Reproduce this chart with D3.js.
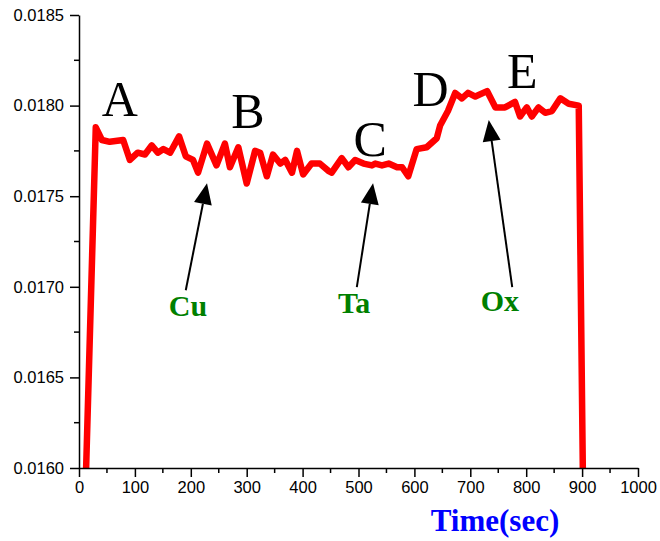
<!DOCTYPE html>
<html>
<head>
<meta charset="utf-8">
<script src="https://cdn.jsdelivr.net/npm/d3@7"></script>
<style>
  body { margin: 0; background: #fff; }
  svg { display: block; }
</style>
</head>
<body>
<script>
// Data (time in seconds, value)
const times = [10, 30, 41, 55, 79, 91, 105, 118, 130, 141, 151, 163, 179, 191, 204, 213, 229,
  246, 261, 270, 285, 300, 315, 324, 336, 347, 360, 369, 381, 390, 401, 416, 431, 446,
  452, 470, 482, 494, 509, 524, 530, 542, 554, 569, 578, 589, 604, 622, 640, 646, 660,
  673, 685, 696, 709, 730, 745, 762, 780, 789, 801, 810, 822, 834, 846, 861, 876, 894, 902];
const values = [0.01570, 0.01788, 0.01781, 0.01780, 0.01781, 0.01770, 0.01774, 0.01773, 0.01778, 0.01774, 0.01776, 0.01774, 0.01783, 0.01772, 0.01770, 0.01763, 0.01779,
  0.01767, 0.01779, 0.01766, 0.01777, 0.01757, 0.01775, 0.01774, 0.01761, 0.01773, 0.01768, 0.01770, 0.01763, 0.01775, 0.01762, 0.01768, 0.01768, 0.01764,
  0.01763, 0.01771, 0.01766, 0.01770, 0.01768, 0.01767, 0.01768, 0.01767, 0.01768, 0.01766, 0.01766, 0.01761, 0.01776, 0.01777, 0.01782, 0.01789, 0.01797,
  0.01807, 0.01804, 0.01807, 0.01805, 0.01808, 0.01799, 0.01799, 0.01802, 0.01794, 0.01799, 0.01794, 0.01799, 0.01796, 0.01797, 0.01804, 0.01801, 0.01800, 0.01580];

const xTicks = [0, 100, 200, 300, 400, 500, 600, 700, 800, 900, 1000];
const yTicks = [0.0160, 0.0165, 0.0170, 0.0175, 0.0180, 0.0185];

// Region letters
const letters = ["A", "B", "C", "D", "E"];
const letterT = [73, 302, 521, 629, 793];
const letterV = [0.017941, 0.017875, 0.017724, 0.018000, 0.018099];

// Element labels with arrows (label anchor, arrow tail, arrow tip)
const elems = ["Cu", "Ta", "Ox"];
const elemT = [195, 492, 753];
const elemV = [0.016837, 0.016853, 0.016864];
const tailT = [191, 497, 775];
const tailV = [0.016981, 0.016998, 0.016998];
const tipT = [229, 526, 733];
const tipV = [0.017572, 0.017572, 0.017920];

const margin = { top: 15, right: 22, bottom: 73, left: 79 };
const W = 660, H = 541;
const width = W - margin.left - margin.right;
const height = H - margin.top - margin.bottom;

const svg = d3.select("body").append("svg")
    .attr("width", W)
    .attr("height", H);

const g = svg.append("g")
    .attr("transform", `translate(${margin.left},${margin.top})`);

const x = d3.scaleLinear().domain([0, 1000]).range([0, width]);
const y = d3.scaleLinear().domain([0.0160, 0.0185]).range([height, 0]);

g.append("clipPath").attr("id", "clip")
    .append("rect").attr("x", 0).attr("y", -10).attr("width", width).attr("height", height + 10);

// Data line
const pts = times.map((t, i) => [t, values[i]]);
g.append("path")
    .datum(pts)
    .attr("clip-path", "url(#clip)")
    .attr("fill", "none")
    .attr("stroke", "#ff0000")
    .attr("stroke-width", 6.5)
    .attr("stroke-linejoin", "round")
    .attr("d", d3.line().x(d => x(d[0])).y(d => y(d[1])));

// Axes
const xAxis = g.append("g")
    .attr("transform", `translate(0,${height})`)
    .call(d3.axisBottom(x).tickValues(xTicks).tickSize(9).tickSizeOuter(0).tickPadding(4).tickFormat(d3.format("d")));
xAxis.append("g").selectAll("line")
    .data(d3.range(50, 1000, 100))
    .enter().append("line")
    .attr("x1", d => x(d)).attr("x2", d => x(d))
    .attr("y1", 0).attr("y2", 5)
    .attr("stroke", "#000").attr("stroke-width", 1.5);

const yAxis = g.append("g")
    .call(d3.axisLeft(y).tickValues(yTicks).tickSize(9).tickSizeOuter(0).tickPadding(6).tickFormat(d3.format(".4f")));
yAxis.append("g").selectAll("line")
    .data([0.01625, 0.01675, 0.01725, 0.01775, 0.01825])
    .enter().append("line")
    .attr("y1", d => y(d)).attr("y2", d => y(d))
    .attr("x1", 0).attr("x2", -5)
    .attr("stroke", "#000").attr("stroke-width", 1.5);

[xAxis, yAxis].forEach(a => {
    a.select(".domain").attr("stroke", "#000").attr("stroke-width", 1.5);
    a.selectAll(".tick line").attr("stroke", "#000").attr("stroke-width", 1.5);
    a.selectAll(".tick text")
        .attr("fill", "#000")
        .style("font-family", "'Liberation Sans', Arial, sans-serif")
        .style("font-size", "16.5px");
});

// Region letters
g.selectAll(".letter")
    .data(letters)
    .enter().append("text")
    .attr("class", "letter")
    .attr("x", (d, i) => x(letterT[i]))
    .attr("y", (d, i) => y(letterV[i]))
    .attr("text-anchor", "middle")
    .style("font-family", "'Liberation Serif', 'Times New Roman', serif")
    .style("font-size", "50px")
    .text(d => d);

// Arrows
elems.forEach((e, i) => {
    const x1 = x(tailT[i]), y1 = y(tailV[i]);
    const x2 = x(tipT[i]), y2 = y(tipV[i]);
    const ang = Math.atan2(y2 - y1, x2 - x1);
    const len = 21, half = 9;
    const bx = x2 - len * Math.cos(ang), by = y2 - len * Math.sin(ang);
    g.append("line")
        .attr("x1", x1).attr("y1", y1)
        .attr("x2", bx).attr("y2", by)
        .attr("stroke", "#000").attr("stroke-width", 2);
    g.append("polygon")
        .attr("points", [
            [x2, y2],
            [bx + half * Math.sin(ang), by - half * Math.cos(ang)],
            [bx - half * Math.sin(ang), by + half * Math.cos(ang)]
        ].map(p => p.join(",")).join(" "))
        .attr("fill", "#000");
    g.append("text")
        .attr("x", x(elemT[i]))
        .attr("y", y(elemV[i]))
        .attr("text-anchor", "middle")
        .attr("fill", "#008000")
        .style("font-family", "'Liberation Serif', 'Times New Roman', serif")
        .style("font-weight", "bold")
        .style("font-size", "30px")
        .text(e);
});

// Axis title
svg.append("text")
    .attr("x", 495)
    .attr("y", 531)
    .attr("text-anchor", "middle")
    .attr("fill", "#0000ff")
    .style("font-family", "'Liberation Serif', 'Times New Roman', serif")
    .style("font-weight", "bold")
    .style("font-size", "31px")
    .text("Time(sec)");
</script>
</body>
</html>
